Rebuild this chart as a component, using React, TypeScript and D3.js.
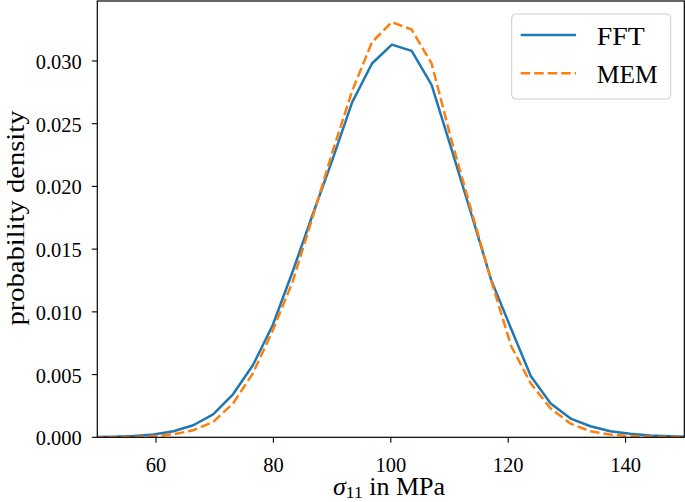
import React from "react";
import * as d3 from "d3";

// stress grid (MPa)
const sigma: number[] = [
  49.44, 52.82, 56.2, 59.58, 62.97, 66.35, 69.73, 73.12, 76.5, 79.88, 83.27,
  86.65, 90.03, 93.41, 96.8, 100.18, 103.56, 106.95, 110.33, 113.71, 117.1,
  120.48, 123.86, 127.24, 130.63, 134.01, 137.39, 140.78, 144.16, 147.54, 150.93,
];
const fft: number[] = [
  0.00002, 0.00005, 0.0001, 0.00022, 0.00048, 0.00096, 0.00183, 0.00343, 0.00574,
  0.00893, 0.0132, 0.0177, 0.0221, 0.0267, 0.0298, 0.0313, 0.0308, 0.0281, 0.023,
  0.0178, 0.01255, 0.00867, 0.00486, 0.00269, 0.00149, 0.00088, 0.00048, 0.00028,
  0.00015, 0.00008, 0.00004,
];
const mem: number[] = [
  0.0, 0.00001, 0.00003, 0.00009, 0.00024, 0.00056, 0.00122, 0.00269, 0.0051,
  0.0085, 0.0124, 0.0175, 0.0227, 0.0276, 0.0315, 0.0331, 0.0325, 0.0298, 0.0237,
  0.0181, 0.0125, 0.0073, 0.00428, 0.00229, 0.00109, 0.00048, 0.00022, 0.0001,
  0.00004, 0.00002, 0.00001,
];
const xTicks: number[] = [60, 80, 100, 120, 140];
const yTicks: number[] = [0, 0.005, 0.01, 0.015, 0.02, 0.025, 0.03];
const seriesNames: string[] = ["FFT", "MEM"];
const seriesColors: string[] = ["#1f77b4", "#ff7f0e"];

const W = 685;
const H = 502;
const L = 97.3;
const R = 684.3;
const T = 1;
const B = 437.3;

export default function App() {
  const x = d3.scaleLinear().domain([50, 150]).range([L, R]);
  const y = d3.scaleLinear().domain([0, 0.03478]).range([B, T]);
  const line = d3
    .line<[number, number]>()
    .x((d) => x(d[0]))
    .y((d) => y(d[1]));
  const fftPts = sigma.map((s, i) => [s, fft[i]] as [number, number]);
  const memPts = sigma.map((s, i) => [s, mem[i]] as [number, number]);
  const fmt = d3.format(".3f");
  const font = "'Liberation Serif', 'Times New Roman', serif";

  return (
    <svg
      width={W}
      height={H}
      style={{ position: "absolute", left: 0, top: 0, background: "#fff" }}
      fontFamily={font}
    >
      <defs>
        <clipPath id="plot">
          <rect x={L} y={T} width={R - L} height={B - T} />
        </clipPath>
      </defs>
      <rect x={0} y={0} width={W} height={H} fill="#fff" />
      <g clipPath="url(#plot)">
        <path
          d={line(fftPts) || ""}
          fill="none"
          stroke={seriesColors[0]}
          strokeWidth={2.5}
          strokeLinejoin="round"
        />
        <path
          d={line(memPts) || ""}
          fill="none"
          stroke={seriesColors[1]}
          strokeWidth={2.5}
          strokeDasharray="9.5,4"
        />
      </g>
      {/* frame */}
      <rect
        x={L}
        y={T}
        width={R - L}
        height={B - T}
        fill="none"
        stroke="#000"
        strokeWidth={1.2}
      />
      {/* x ticks */}
      {xTicks.map((t) => (
        <g key={"x" + t}>
          <line x1={x(t)} x2={x(t)} y1={B} y2={B + 5.5} stroke="#000" strokeWidth={1.1} />
          <text x={x(t)} y={472} fontSize={20.5} textAnchor="middle" fill="#000">
            {t}
          </text>
        </g>
      ))}
      {/* y ticks */}
      {yTicks.map((t) => (
        <g key={"y" + t}>
          <line x1={L - 5.5} x2={L} y1={y(t)} y2={y(t)} stroke="#000" strokeWidth={1.1} />
          <text
            x={81.7}
            y={y(t) + 8}
            fontSize={20.5}
            textAnchor="end"
            fill="#000"
            textLength={46}
            lengthAdjust="spacingAndGlyphs"
          >
            {fmt(t)}
          </text>
        </g>
      ))}
      {/* axis labels */}
      <text x={389} y={494.5} fontSize={26} textAnchor="middle" fill="#000">
        <tspan fontStyle="italic">σ</tspan>
        <tspan fontSize={17.5} dy={3}>11</tspan>
        <tspan dy={-3}> in MPa</tspan>
      </text>
      <text
        transform={`translate(24,218) rotate(-90)`}
        fontSize={26}
        textAnchor="middle"
        fill="#000"
        textLength={215}
        lengthAdjust="spacingAndGlyphs"
      >
        probability density
      </text>
      {/* legend */}
      <rect
        x={511.7}
        y={14}
        width={159}
        height={85}
        rx={4}
        ry={4}
        fill="#fff"
        fillOpacity={0.8}
        stroke="#cccccc"
        strokeWidth={1}
      />
      {seriesNames.map((name, i) => (
        <g key={name}>
          <line
            x1={520.7}
            x2={576}
            y1={35 + i * 38.3}
            y2={35 + i * 38.3}
            stroke={seriesColors[i]}
            strokeWidth={2.5}
            strokeDasharray={i === 1 ? "9.5,4" : undefined}
          />
          <text
            x={596.7}
            y={45 + i * 38.3}
            fontSize={26}
            fill="#000"
            textLength={i === 0 ? 48 : 61}
            lengthAdjust="spacingAndGlyphs"
          >
            {name}
          </text>
        </g>
      ))}
    </svg>
  );
}
